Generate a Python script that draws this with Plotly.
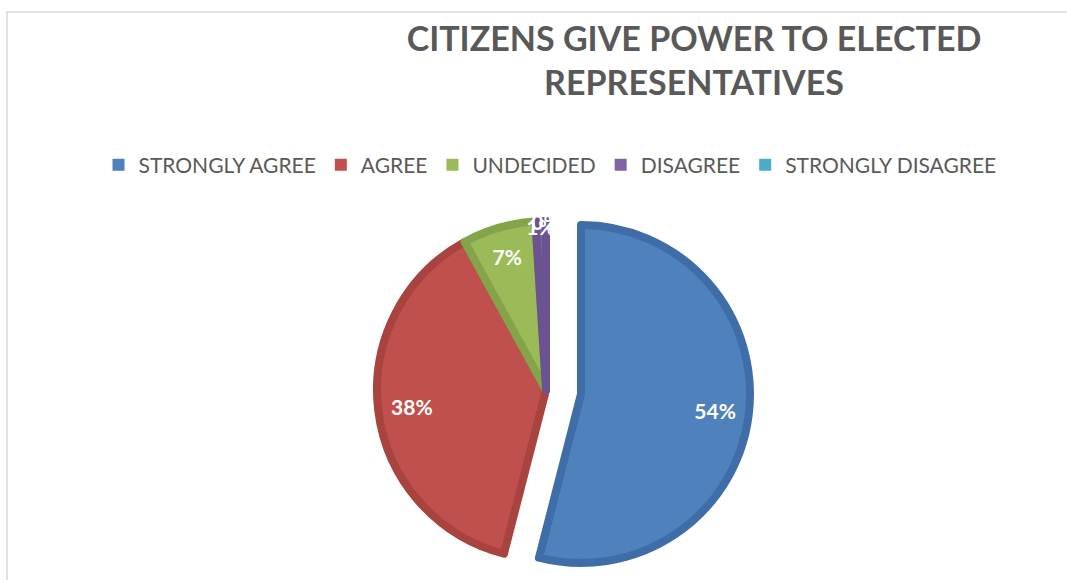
import plotly.graph_objects as go

# Survey responses: "Citizens give power to elected representatives"
categories = ["STRONGLY AGREE", "AGREE", "UNDECIDED", "DISAGREE", "STRONGLY DISAGREE"]
shares = [54, 38, 7, 1, 0]

fill_colors = ["#4F81BD", "#C0504D", "#9BBB59", "#8064A2", "#4BACC6"]
edge_colors = ["#3F6DA7", "#A9433F", "#84A44A", "#6B5290", "#3A97B0"]
CLEAR = "rgba(0,0,0,0)"

W, H = 1067, 580
R = 169          # slice radius in px
EDGE = 8         # darker rim width
LABEL_RING = 0.6  # labels sit in the outer ring of each slice

# centres (px from top-left) of the main pie and of the exploded first slice
main_c = (546, 390)
expl_c = (581, 394)


def domain_at(cx, cy, r):
    return dict(x=[(cx - r) / W, (cx + r) / W],
                y=[1 - (cy + r) / H, 1 - (cy - r) / H])


def base_pie(dom, **kw):
    return go.Pie(labels=categories, values=shares, sort=False,
                  direction="clockwise", rotation=0, domain=dom,
                  showlegend=False, hoverinfo="skip", **kw)


def fill_layer(show, dom):
    colors = [c if s else CLEAR for c, s in zip(fill_colors, show)]
    lines = [c if s else CLEAR for c, s in zip(edge_colors, show)]
    widths = [EDGE if (s and v > 0) else 0 for s, v in zip(show, shares)]
    return base_pie(dom, marker=dict(colors=colors,
                                     line=dict(color=lines, width=widths)),
                    textinfo="none")


def label_layer(show, dom):
    tmpl = ["%{percent:.0%}" if s else "" for s in show]
    return base_pie(dom, hole=LABEL_RING,
                    marker=dict(colors=[CLEAR] * len(shares), line=dict(width=0)),
                    texttemplate=tmpl, textposition="inside",
                    insidetextorientation="horizontal",
                    textfont=dict(family="Lato", size=21, color="white",
                                  weight="bold"))


main_dom = domain_at(*main_c, R)
expl_dom = domain_at(*expl_c, R)
rest = [False, True, True, True, True]
first = [True, False, False, False, False]

fig = go.Figure()

# legend carrier: a tiny pie hidden beneath the exploded slice
fig.add_trace(go.Pie(
    labels=categories, values=shares, sort=False,
    marker=dict(colors=fill_colors, line=dict(width=0)),
    domain=domain_at(680, 450, 0.5),
    textinfo="none", hoverinfo="skip", showlegend=True,
))

fig.add_trace(fill_layer(rest, main_dom))
fig.add_trace(fill_layer(first, expl_dom))
fig.add_trace(label_layer(rest, main_dom))
fig.add_trace(label_layer(first, expl_dom))

fig.update_layout(
    width=W, height=H,
    margin=dict(l=0, r=0, t=0, b=0),
    paper_bgcolor="white",
    title=dict(
        text="CITIZENS GIVE POWER TO ELECTED<br>REPRESENTATIVES",
        x=694 / W, xanchor="center", xref="paper",
        y=1 - 51 / H, yanchor="top", yref="paper",
        font=dict(family="Lato", size=34, color="#595959", weight="bold"),
    ),
    legend=dict(
        orientation="h", x=550 / W, xanchor="center",
        y=1 - 165 / H, yanchor="middle",
        font=dict(family="Lato", size=21, color="#595959"),
        traceorder="normal",
    ),
    uniformtext=dict(minsize=21, mode="show"),
    shapes=[dict(
        type="rect", xref="paper", yref="paper",
        x0=7 / W, x1=1.02, y0=-0.02, y1=1 - 12 / H,
        line=dict(color="#D9D9D9", width=1.5), layer="below",
    )],
)

fig.write_html("out.html")
